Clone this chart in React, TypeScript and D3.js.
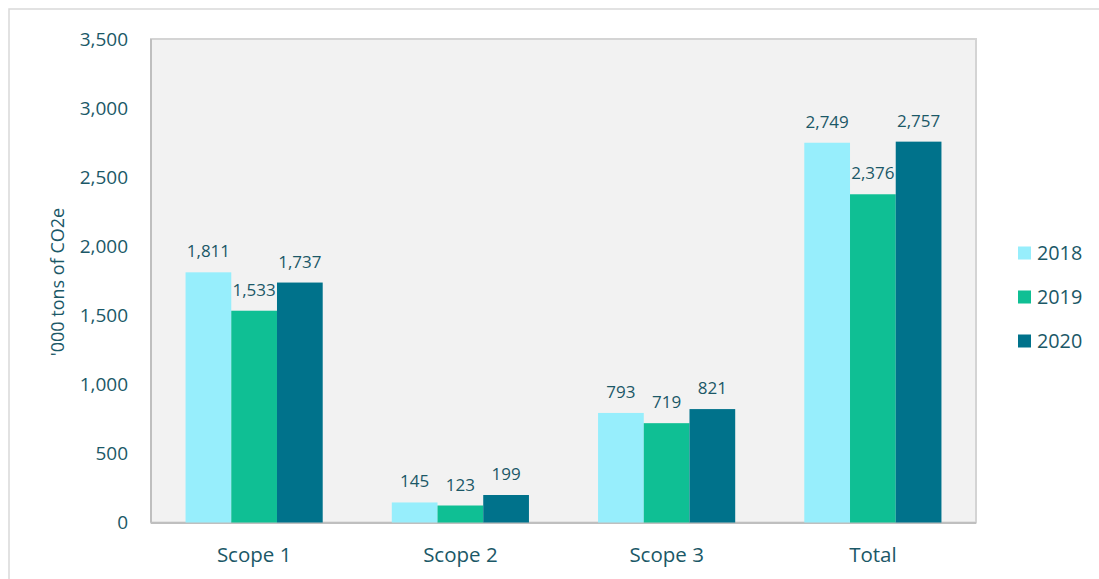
import React from "react";
import * as d3 from "d3";

const categories = ["Scope 1", "Scope 2", "Scope 3", "Total"];
const seriesNames = ["2018", "2019", "2020"];
const values2018 = [1811, 145, 793, 2749];
const values2019 = [1533, 123, 719, 2376];
const values2020 = [1737, 199, 821, 2757];
const yTicks = [0, 500, 1000, 1500, 2000, 2500, 3000, 3500];
const colors = ["#97EEFC", "#0FBF94", "#00728B"];

const W = 1099;
const H = 579;
const FONT = "'Open Sans', 'Noto Sans', sans-serif";
const TEXT = "#1B5867";

export default function App() {
  const series = [values2018, values2019, values2020];
  const left = 151, right = 976, top = 39, bottom = 522.5;
  const x0 = d3.scaleBand<string>().domain(categories).range([left, right]).paddingInner(0.335).paddingOuter(0.1675);
  const x1 = d3.scaleBand<string>().domain(seriesNames).range([0, x0.bandwidth()]);
  const y = d3.scaleLinear().domain([0, 3500]).range([bottom, top]);
  const fmt = d3.format(",");

  return (
    <svg width={W} height={H} style={{ position: "absolute", left: 0, top: 0, background: "#fff" }} fontFamily={FONT}>
      <rect x={9} y={9} width={W + 10} height={H + 10} fill="#fff" stroke="#D9D9D9" strokeWidth={1.5} />
      <rect x={left} y={top} width={right - left} height={bottom - top} fill="#F2F2F2" stroke="#D4D4D4" strokeWidth={2} />
      <line x1={left} x2={left} y1={top} y2={bottom} stroke="#BFBFBF" strokeWidth={2} />
      <line x1={left} x2={right} y1={bottom + 0.5} y2={bottom + 0.5} stroke="#BFBFBF" strokeWidth={2} />
      {yTicks.map((t) => (
        <text key={t} x={128} y={y(t)} dy="0.35em" textAnchor="end" fontSize={19} fill={TEXT}>
          {fmt(t)}
        </text>
      ))}
      <text transform={`translate(${58},${282}) rotate(-90)`} textAnchor="middle" dy="0.35em" fontSize={18} fill={TEXT}>
        '000 tons of CO2e
      </text>
      {categories.map((c, i) => (
        <g key={c} transform={`translate(${x0(c)},0)`}>
          {seriesNames.map((s, j) => {
            const v = series[j][i];
            return (
              <g key={s}>
                <rect x={x1(s)} y={y(v)} width={x1.bandwidth()} height={bottom - y(v)} fill={colors[j]} />
                <text x={(x1(s) as number) + x1.bandwidth() / 2} y={y(v) - 15} textAnchor="middle" fontSize={17} fill={TEXT}>
                  {fmt(v)}
                </text>
              </g>
            );
          })}
          <text x={x0.bandwidth() / 2} y={562} textAnchor="middle" fontSize={20.5} fill={TEXT}>
            {c}
          </text>
        </g>
      ))}
      {seriesNames.map((s, j) => (
        <g key={s} transform={`translate(1018,${253 + j * 44})`}>
          <rect x={0} y={-6.5} width={13} height={13} fill={colors[j]} />
          <text x={19} y={0} dy="0.35em" fontSize={19.8} fill={TEXT}>
            {s}
          </text>
        </g>
      ))}
    </svg>
  );
}
